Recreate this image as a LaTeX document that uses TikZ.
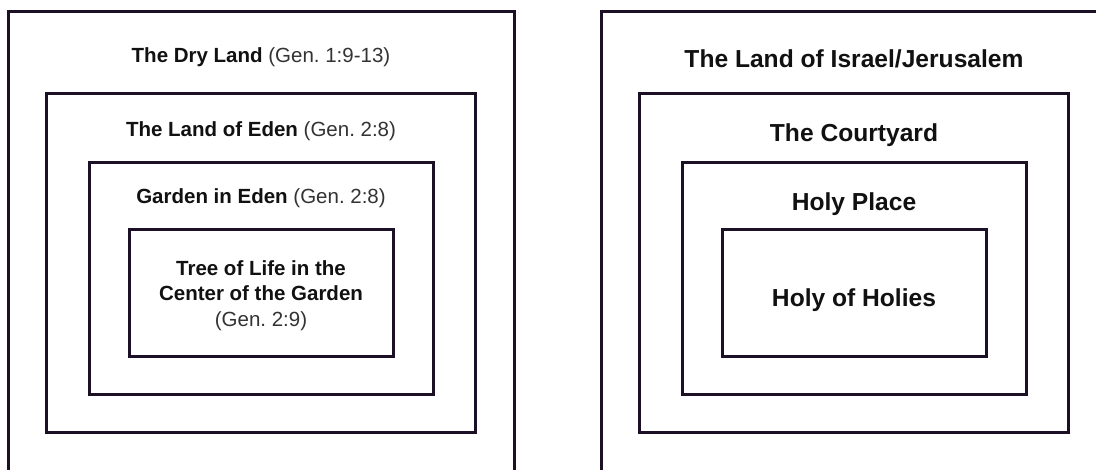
\documentclass[tikz,border=0pt]{standalone}
\usepackage{fontspec}
\setmainfont{Liberation Sans}
\frenchspacing
\definecolor{linecol}{HTML}{1C1026}
\definecolor{boldcol}{HTML}{111111}
\definecolor{regcol}{HTML}{333333}
\tikzset{
  box/.style={draw=linecol, line width=3pt, inner sep=0pt, outer sep=0pt},
  ltext/.style={anchor=base, inner sep=0pt, text=boldcol, font=\fontsize{20.5}{25}\selectfont},
  rtext/.style={anchor=base, inner sep=0pt, text=boldcol, font=\fontsize{24.6}{30}\selectfont\bfseries},
}
\newcommand{\reg}[1]{\textcolor{regcol}{\mdseries #1}}
\begin{document}
\begin{tikzpicture}[x=1pt,y=-1pt]
\useasboundingbox (0,0) rectangle (1096,470);
\clip (0,0) rectangle (1096,470);
\fill[white] (0,0) rectangle (1096,470);
% left panel
\node[box, minimum width=506pt, minimum height=508pt] (L1) at (261,266) {};
\node[box, minimum width=429pt, minimum height=339pt] (L2) at (260.5,263.5) {};
\node[box, minimum width=344pt, minimum height=232pt] (L3) at (261,279) {};
\node[box, minimum width=264pt, minimum height=127pt] (L4) at (261,293.5) {};
\node[ltext] (t1) at (261,63) {\textbf{The Dry Land} \reg{(Gen. 1:9-13)}};
\node[ltext] (t2) at (261,137) {\textbf{The Land of Eden} \reg{(Gen. 2:8)}};
\node[ltext] (t3) at (261,204) {\textbf{Garden in Eden} \reg{(Gen. 2:8)}};
\node[ltext] (t4a) at (261,276) {\textbf{Tree of Life in the}};
\node[ltext] (t4b) at (261,301) {\textbf{Center of the Garden}};
\node[ltext] (t4c) at (261,326.5) {\reg{(Gen. 2:9)}};
% right panel
\node[box, minimum width=506pt, minimum height=508pt] (R1) at (854,266) {};
\node[box, minimum width=429pt, minimum height=339pt] (R2) at (853.5,263.5) {};
\node[box, minimum width=344pt, minimum height=232pt] (R3) at (854,279) {};
\node[box, minimum width=264pt, minimum height=127pt] (R4) at (854,293.5) {};
\node[rtext] (s1) at (854,68) {The Land of Israel/Jerusalem};
\node[rtext] (s2) at (854,142) {The Courtyard};
\node[rtext] (s3) at (854,211) {Holy Place};
\node[rtext] (s4) at (854,307) {Holy of Holies};
\end{tikzpicture}
\end{document}
